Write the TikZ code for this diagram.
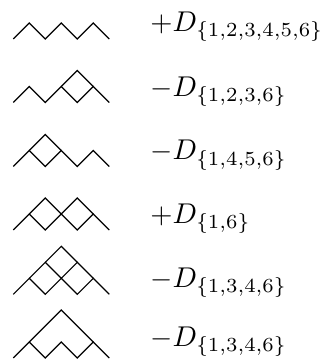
\documentclass[tikz,border=0pt]{standalone}
\begin{document}
\begin{tikzpicture}[x=0.35pt,y=-0.35pt,
  pathline/.style={line width=0.4pt, line join=miter},
  lbl/.style={anchor=base west, inner sep=0pt}]
\useasboundingbox (0,0) rectangle (322,360);
% row 1
\begin{scope}[shift={(13.3,39)},xscale=16,yscale=-16]
  \draw[pathline] (0,0)--(1,1)--(2,0)--(3,1)--(4,0)--(5,1)--(6,0);
\end{scope}
\node[lbl] (l1) at (149.8,31.7) {$+D_{\{1,2,3,4,5,6\}}$};
% row 2
\begin{scope}[shift={(13.3,102.5)},xscale=16,yscale=-16]
  \draw[pathline] (0,0)--(1,1)--(2,0)--(3,1)--(4,0)--(5,1)--(6,0);
  \draw[pathline] (3,1)--(4,2)--(5,1);
\end{scope}
\node[lbl] (l2) at (149.8,96.7) {$-D_{\{1,2,3,6\}}$};
% row 3
\begin{scope}[shift={(13.3,166.5)},xscale=16,yscale=-16]
  \draw[pathline] (0,0)--(1,1)--(2,0)--(3,1)--(4,0)--(5,1)--(6,0);
  \draw[pathline] (1,1)--(2,2)--(3,1);
\end{scope}
\node[lbl] (l3) at (149.8,160) {$-D_{\{1,4,5,6\}}$};
% row 4
\begin{scope}[shift={(13.3,230)},xscale=16,yscale=-16]
  \draw[pathline] (0,0)--(1,1)--(2,0)--(3,1)--(4,0)--(5,1)--(6,0);
  \draw[pathline] (1,1)--(2,2)--(3,1)--(4,2)--(5,1);
\end{scope}
\node[lbl] (l4) at (149.8,223.3) {$+D_{\{1,6\}}$};
% row 5
\begin{scope}[shift={(13.3,294.3)},xscale=16,yscale=-16]
  \draw[pathline] (0,0)--(1,1)--(2,0)--(3,1)--(4,0)--(5,1)--(6,0);
  \draw[pathline] (1,1)--(2,2)--(3,1)--(4,2)--(5,1);
  \draw[pathline] (2,2)--(3,3)--(4,2);
\end{scope}
\node[lbl] (l5) at (149.8,287.7) {$-D_{\{1,3,4,6\}}$};
% row 6
\begin{scope}[shift={(13.3,358)},xscale=16,yscale=-16]
  \draw[pathline] (0,0)--(1,1)--(2,0)--(3,1)--(4,0)--(5,1)--(6,0);
  \draw[pathline] (1,1)--(3,3)--(5,1);
\end{scope}
\node[lbl] (l6) at (149.8,346.7) {$-D_{\{1,3,4,6\}}$};
\end{tikzpicture}
\end{document}
